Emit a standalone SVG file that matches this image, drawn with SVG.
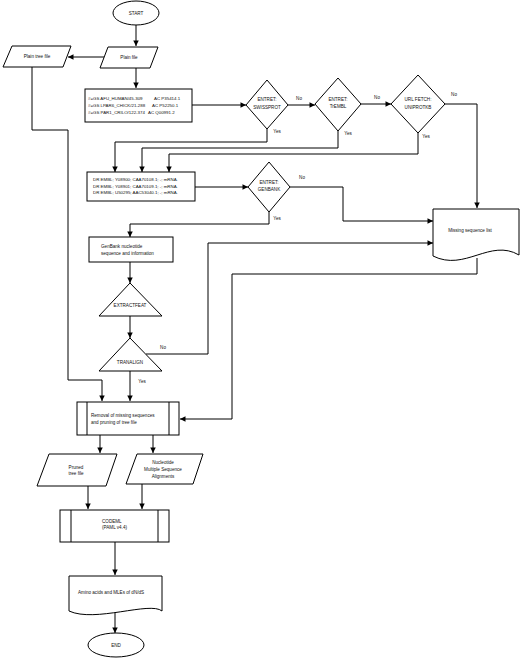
<svg xmlns="http://www.w3.org/2000/svg" width="520" height="658" viewBox="0 0 520 658">
<style>
.s{fill:#fff;stroke:#000;stroke-width:1}
.c{fill:none;stroke:#000;stroke-width:1}
text{font-family:"Liberation Sans",Arial,sans-serif;font-size:4.6px;fill:#111}
.m{text-anchor:middle}
.l{font-size:4.4px}
</style>
<defs>
<marker id="a" viewBox="0 0 10 10" refX="10" refY="5" markerWidth="6" markerHeight="5.5" markerUnits="userSpaceOnUse" orient="auto">
<path d="M0,0 L10,5 L0,10 z" fill="#000"/>
</marker>
</defs>
<rect width="520" height="658" fill="#fff"/>
<g id="connectors" class="c" marker-end="url(#a)">
<path d="M136,25 V46"/>
<path d="M104,57 H68"/>
<path d="M136,68 V88"/>
<path d="M32,67 V130 H68 V380 H102 V401"/>
<path d="M192,105 H246"/>
<path d="M288,105 H315"/>
<path d="M361,104 H391"/>
<path d="M445,104 H477 V208"/>
<path d="M267,129 V142 H115 V172"/>
<path d="M338,131 V148 H142 V172"/>
<path d="M418,133 V154 H169 V172"/>
<path d="M195,187 H248"/>
<path d="M290,187 H343 V221 H433"/>
<path d="M269,212 V224 H130 V237"/>
<path d="M130,262 V283"/>
<path d="M130,316 V338"/>
<path d="M130,371 V401"/>
<path d="M146,354 H208 V243 H433"/>
<path d="M477,258 V274 H232 V419 H180"/>
<path d="M100,435 V453"/>
<path d="M153,435 V453"/>
<path d="M88,486 V509"/>
<path d="M142,484 V509"/>
<path d="M115,542 V575"/>
<path d="M115,613 V633"/>
</g>
<g id="labels">
<text x="299" y="100" class="m">No</text>
<text x="377" y="99" class="m">No</text>
<text x="454" y="96" class="m">No</text>
<text x="277" y="133" class="m">Yes</text>
<text x="348" y="135" class="m">Yes</text>
<text x="426" y="138" class="m">Yes</text>
<text x="302" y="179" class="m">No</text>
<text x="277" y="220" class="m">Yes</text>
<text x="163" y="349" class="m">No</text>
<text x="142" y="383" class="m">Yes</text>
</g>
<g id="start">
<ellipse class="s" cx="136" cy="13" rx="23" ry="12"/>
<text x="136" y="14.5" class="m">START</text>
</g>
<g id="plain-file">
<path class="s" d="M108,47 H158 L150,68 H100 Z"/>
<text x="129" y="59" class="m">Plain file</text>
</g>
<g id="plain-tree-file">
<path class="s" d="M12,46 H71 L63,67 H3 Z"/>
<text x="37" y="58" class="m">Plain tree file</text>
</g>
<g id="gs-box">
<rect class="s" x="85" y="89" width="107" height="33"/>
<text x="88" y="99.5" class="l">#=GS AFU_HUMAN/45-309<tspan x="154">AC P35414.1</tspan></text>
<text x="88" y="106.5" class="l">#=GS LPAR6_CHICK/21-288<tspan x="152">AC P52250.1</tspan></text>
<text x="88" y="113.5" class="l">#=GS PAR1_CRILO/122-374<tspan x="148">AC Q00991.2</tspan></text>
</g>
<g id="swissprot">
<path class="s" d="M267,80 L288,105 L267,129 L246,105 Z"/>
<text x="267" y="101" class="m">ENTRET:</text>
<text x="267" y="108.5" class="m">SWISSPROT</text>
</g>
<g id="trembl">
<path class="s" d="M338,78 L361,104 L338,131 L315,104 Z"/>
<text x="338" y="100.5" class="m">ENTRET:</text>
<text x="338" y="108" class="m">TrEMBL</text>
</g>
<g id="uniprotkb">
<path class="s" d="M418,75 L445,104 L418,133 L391,104 Z"/>
<text x="418" y="101" class="m">URL FETCH:</text>
<text x="418" y="108.5" class="m">UNIPROTKB</text>
</g>
<g id="dr-box">
<rect class="s" x="87" y="172" width="108" height="29"/>
<text x="93" y="181" class="l">DR   EMBL; Y08900; CAA70108.1; -; mRNA.</text>
<text x="93" y="187.5" class="l">DR   EMBL; Y08901; CAA70109.1; -; mRNA.</text>
<text x="93" y="194" class="l">DR   EMBL; U50295; AAC53040.1; -; mRNA.</text>
</g>
<g id="genbank">
<path class="s" d="M269,162 L290,187 L269,212 L248,187 Z"/>
<text x="269" y="183.5" class="m">ENTRET:</text>
<text x="269" y="191" class="m">GENBANK</text>
</g>
<g id="missing-list">
<path class="s" d="M433,209 H519 V255 C490,238 465,272 433,256 Z"/>
<text x="470" y="231.5" class="m">Missing sequence list</text>
</g>
<g id="genbank-box">
<rect class="s" x="89" y="237" width="84" height="25"/>
<text x="101" y="247.5">GenBank nucleotide</text>
<text x="101" y="254.5">sequence and information</text>
</g>
<g id="extractfeat">
<path class="s" d="M130,283 L162,316 H99 Z"/>
<text x="130" y="306.5" class="m">EXTRACTFEAT</text>
</g>
<g id="tranalign">
<path class="s" d="M130,338 L162,371 H99 Z"/>
<text x="130" y="363.5" class="m">TRANALIGN</text>
</g>
<g id="removal">
<rect class="s" x="77" y="402" width="102" height="33"/>
<path class="c" d="M87,402 V435 M169,402 V435"/>
<text x="91" y="416.5">Removal of missing sequences</text>
<text x="91" y="423.5">and pruning of tree file</text>
</g>
<g id="pruned">
<path class="s" d="M49,454 H117 L106,486 H37 Z"/>
<text x="76" y="468.5" class="m">Pruned</text>
<text x="76" y="475" class="m">tree file</text>
</g>
<g id="msa">
<path class="s" d="M137,454 H203 L193,484 H126 Z"/>
<text x="163" y="463.5" class="m">Nucleotide</text>
<text x="163" y="470.5" class="m">Multiple Sequence</text>
<text x="163" y="477.5" class="m">Alignments</text>
</g>
<g id="codeml">
<rect class="s" x="60" y="510" width="109" height="32"/>
<path class="c" d="M71,510 V542 M158,510 V542"/>
<text x="102" y="522.5">CODEML</text>
<text x="102" y="529">(PAML v4.4)</text>
</g>
<g id="amino">
<path class="s" d="M69,576 H162 V611 C150,601 95,623 69,611 Z"/>
<text x="78" y="593.5">Amino acids and MLEs of dN/dS</text>
</g>
<g id="end">
<ellipse class="s" cx="116" cy="645" rx="28" ry="12"/>
<text x="116" y="647" class="m">END</text>
</g>
</svg>
